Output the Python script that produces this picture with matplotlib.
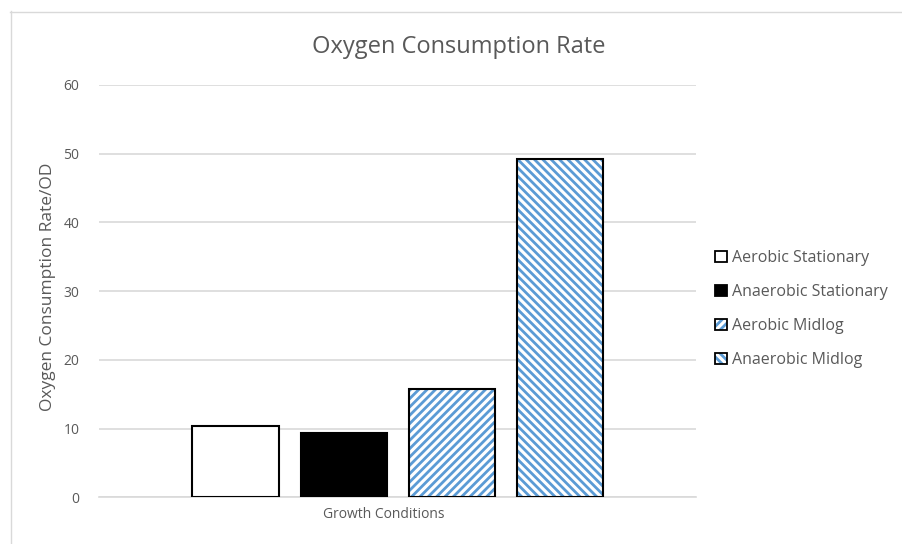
import matplotlib
matplotlib.use('Agg')
import matplotlib.pyplot as plt
from matplotlib.patches import Patch
from matplotlib.lines import Line2D

# Oxygen consumption per OD for each growth condition
conditions = ['Aerobic Stationary', 'Anaerobic Stationary', 'Aerobic Midlog', 'Anaerobic Midlog']
rates = [10.4, 9.4, 15.8, 49.3]
category = 'Growth Conditions'

faces = ['white', 'black', 'white', 'white']
hatches = [None, None, '////', '\\\\\\\\']

grey = '#595959'
grid = '#D9D9D9'
blue = '#5B9BD5'

plt.rcParams['font.family'] = ['Open Sans', 'DejaVu Sans']
plt.rcParams['hatch.linewidth'] = 2.0

fig = plt.figure(figsize=(9.02, 5.44), dpi=100)

# chart frame
fig.add_artist(Line2D([10.5 / 902, 10.5 / 902], [0, 1 - 11 / 544], color=grid, lw=1))
fig.add_artist(Line2D([10 / 902, 1], [1 - 11.5 / 544, 1 - 11.5 / 544], color=grid, lw=1))

ax = fig.add_axes([99 / 902, 46.7 / 544, (696 - 99) / 902, (497.3 - 85) / 544])

handles = []
for i, (v, fc, h) in enumerate(zip(rates, faces, hatches)):
    if h:
        ax.bar(i, v, width=0.8, color='white', edgecolor=blue, hatch=h, lw=0, zorder=2)
        fill = Patch(facecolor='white', edgecolor=blue, hatch=h, lw=0)
    else:
        ax.bar(i, v, width=0.8, color=fc, lw=0, zorder=2)
        fill = Patch(facecolor=fc, lw=0)
    ax.bar(i, v, width=0.8, fill=False, edgecolor='black', lw=1.5, zorder=3)
    handles.append((fill, Patch(fill=False, edgecolor='black', lw=1.3)))

ax.set_xlim(-1.265, 4.26)
ax.set_ylim(0, 60)
ax.set_yticks(range(0, 61, 10))
ax.set_xticks([])
ax.yaxis.grid(True, color=grid, lw=1.2)
ax.set_axisbelow(True)
for s in ['top', 'right', 'left']:
    ax.spines[s].set_visible(False)
ax.spines['bottom'].set_color(grid)
ax.spines['bottom'].set_linewidth(1.2)
ax.tick_params(axis='y', length=0, pad=14, labelsize=10, labelcolor=grey)

fig.text(459 / 902, 1 - 47 / 544, 'Oxygen Consumption Rate', ha='center', va='center',
         fontsize=17, color=grey)
fig.text(384 / 902, 1 - 515 / 544, category, ha='center', va='center', fontsize=10, color=grey)
fig.text(48 / 902, 1 - 287 / 544, 'Oxygen Consumption Rate/OD', ha='center', va='center',
         rotation=90, fontsize=12.5, color=grey)

fig.legend(handles, conditions, loc='center left', bbox_to_anchor=(701 / 902, 1 - 309 / 544),
           frameon=False, fontsize=11.5, labelcolor=grey, handlelength=0.7, handleheight=0.7,
           handletextpad=0.35, labelspacing=1.12)

fig.savefig('out.png', dpi=100)
